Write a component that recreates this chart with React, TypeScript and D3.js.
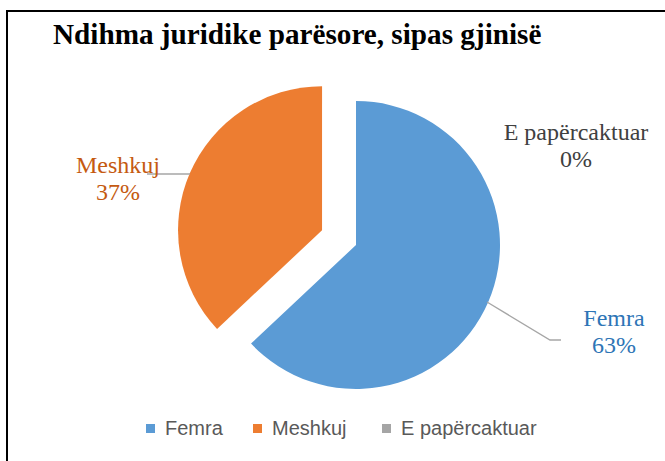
import React from "react";
import * as d3 from "d3";

const categories = ["Femra", "Meshkuj", "E papërcaktuar"];
const values = [63, 37, 0];
const sliceColors = ["#5B9BD5", "#ED7D31", "#A5A5A5"];
const labelColors = ["#2E75B6", "#C55A11", "#404040"];
const title = "Ndihma juridike parësore, sipas gjinisë";

const W = 665;
const H = 461;

export default function App() {
  const cx = 356;
  const cy = 245;
  const r = 144;
  const explode = 37;

  const pie = d3
    .pie<number>()
    .sort(null)
    .value((d) => d);
  const arcs = pie(values);
  const arc = d3.arc<d3.PieArcDatum<number>>().innerRadius(0).outerRadius(r);

  // label positions (taken from the chart's layout)
  const labelPos = [
    { x: 614, y: 326, line: [[487, 302], [550, 340], [561, 340]] },
    { x: 118, y: 173, line: [[190, 174], [147, 174]] },
    { x: 576, y: 140, line: null },
  ];

  const legendX = [146, 253, 382];

  return (
    <svg
      width={W}
      height={H}
      style={{ position: "absolute", left: 0, top: 0 }}
    >
      <rect x={0} y={0} width={W} height={H} fill="#fff" />
      <path d={`M7,${H} L7,11 L${W},11`} fill="none" stroke="#000" strokeWidth={2} />
      <text
        x={53}
        y={44}
        fontFamily="Liberation Serif"
        fontWeight="bold"
        fontSize={29.2}
        fill="#000"
      >
        {title}
      </text>

      {arcs.map((a, i) => {
        if (a.value === 0) return null;
        const mid = (a.startAngle + a.endAngle) / 2;
        const off = i === 1 ? explode : 0;
        const dx = Math.sin(mid) * off;
        const dy = -Math.cos(mid) * off;
        return (
          <path
            key={categories[i]}
            d={arc(a) || ""}
            transform={`translate(${cx + dx},${cy + dy})`}
            fill={sliceColors[i]}
          />
        );
      })}

      {labelPos.map((p, i) => (
        <g key={"lbl" + i}>
          {p.line && (
            <polyline
              points={p.line.map((q) => q.join(",")).join(" ")}
              fill="none"
              stroke="#A6A6A6"
              strokeWidth={1.3}
            />
          )}
          <text
            x={p.x}
            y={p.y}
            textAnchor="middle"
            fontFamily="Liberation Serif"
            fontSize={24}
            fill={labelColors[i]}
          >
            {categories[i]}
          </text>
          <text
            x={p.x}
            y={p.y + 26.5}
            textAnchor="middle"
            fontFamily="Liberation Serif"
            fontSize={24}
            fill={labelColors[i]}
          >
            {values[i]}%
          </text>
        </g>
      ))}

      {categories.map((c, i) => (
        <g key={"lg" + i}>
          <rect x={legendX[i]} y={424} width={9} height={9} fill={sliceColors[i]} />
          <text
            x={legendX[i] + 19}
            y={435}
            fontFamily="Liberation Sans"
            fontSize={20}
            fill="#595959"
          >
            {c}
          </text>
        </g>
      ))}
    </svg>
  );
}
